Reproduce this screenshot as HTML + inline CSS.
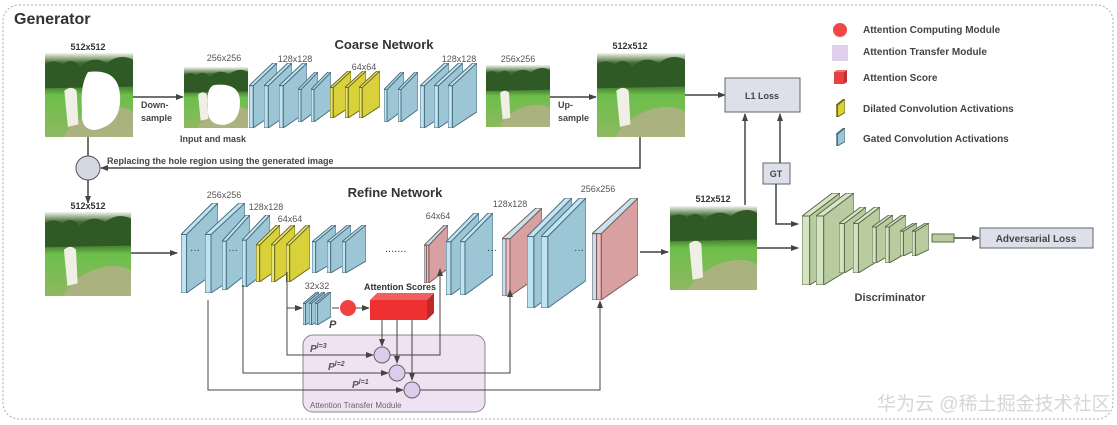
<!DOCTYPE html>
<html><head><meta charset="utf-8"><style>
html,body{margin:0;padding:0;background:#fff;}
svg{display:block;font-family:"Liberation Sans","Noto Sans CJK SC",sans-serif;}
.b{font-weight:bold;}
</style></head><body>
<svg width="1117" height="425" viewBox="0 0 1117 425" xmlns="http://www.w3.org/2000/svg">
<defs>
<marker id="ar" markerWidth="8" markerHeight="8" refX="7" refY="4" orient="auto" markerUnits="userSpaceOnUse"><path d="M0,1 L8,4 L0,7 z" fill="#444"/></marker>
<symbol id="sb" viewBox="0 0 100 100" preserveAspectRatio="none"><g stroke="#4a6f80" stroke-width="1" vector-effect="non-scaling-stroke">
<polygon points="15,35 100,0 100,75 15,100" fill="#9cc6d6" vector-effect="non-scaling-stroke"/>
<polygon points="0,35 85,0 100,0 15,35" fill="#c4e4f0" vector-effect="non-scaling-stroke"/>
<rect x="0" y="35" width="15" height="65" fill="#bfe3f0" vector-effect="non-scaling-stroke"/></g></symbol>
<symbol id="sy" viewBox="0 0 100 100" preserveAspectRatio="none"><g stroke="#6a6a20" stroke-width="1">
<polygon points="15,35 100,0 100,75 15,100" fill="#d9d13a" vector-effect="non-scaling-stroke"/>
<polygon points="0,35 85,0 100,0 15,35" fill="#eeea80" vector-effect="non-scaling-stroke"/>
<rect x="0" y="35" width="15" height="65" fill="#e8e46a" vector-effect="non-scaling-stroke"/></g></symbol>
<symbol id="sp" viewBox="0 0 100 100" preserveAspectRatio="none"><g stroke="#7a5a5a" stroke-width="1">
<polygon points="20,35 100,0 100,75 20,100" fill="#d8a0a0" vector-effect="non-scaling-stroke"/>
<polygon points="0,35 85,0 100,0 20,35" fill="#c4e4f0" vector-effect="non-scaling-stroke"/>
<rect x="0" y="35" width="10" height="65" fill="#bfe3f0" vector-effect="non-scaling-stroke"/>
<rect x="10" y="35" width="10" height="65" fill="#f0c0c0" vector-effect="non-scaling-stroke"/></g></symbol>
<symbol id="sg" viewBox="0 0 100 100" preserveAspectRatio="none"><g stroke="#5a6a4a" stroke-width="1">
<polygon points="20,25 100,0 100,80 20,100" fill="#b8cca0" vector-effect="non-scaling-stroke"/>
<polygon points="0,25 80,0 100,0 20,25" fill="#d8e6c6" vector-effect="non-scaling-stroke"/>
<rect x="0" y="25" width="20" height="75" fill="#d4e4c0" vector-effect="non-scaling-stroke"/></g></symbol>
<linearGradient id="gr" x1="0" y1="0" x2="0" y2="1"><stop offset="0" stop-color="#f4f6f0"/><stop offset="0.12" stop-color="#3f6a30"/><stop offset="0.42" stop-color="#4e8a36"/><stop offset="0.5" stop-color="#6cbf4a"/><stop offset="1" stop-color="#8eb860"/></linearGradient>
<symbol id="ph" viewBox="0 0 100 100" preserveAspectRatio="none">
<rect width="100" height="100" fill="url(#gr)"/>
<path d="M0,14 Q10,6 20,14 Q30,4 40,16 Q55,2 70,12 Q85,0 100,8 L100,40 L0,42z" fill="#2f5a25"/>
<path d="M20,100 Q40,70 70,65 Q90,62 100,70 L100,100z" fill="#b4b088" opacity="0.8"/>
<path d="M22,45 Q30,38 36,45 L38,85 L26,88z" fill="#efefe6"/>
</symbol>
</defs>
<rect x="3" y="5" width="1110" height="414" rx="16" fill="none" stroke="#aaa" stroke-dasharray="2,2"/>
<text x="14" y="24" font-size="16" class="b" fill="#333">Generator</text>

<!-- coarse -->
<text x="384" y="49" font-size="13" class="b" text-anchor="middle" fill="#333">Coarse Network</text>
<text x="88" y="50" font-size="9" class="b" text-anchor="middle" fill="#333">512x512</text>
<use href="#ph" x="45" y="53" width="88" height="84"/>
<path d="M88,72 Q118,68 120,95 Q122,125 95,130 Q80,130 82,110 Q80,85 88,72z" fill="#fff"/>
<line x1="133" y1="97" x2="183" y2="97" stroke="#444" stroke-width="1.5" marker-end="url(#ar)"/>
<text x="141" y="108" font-size="9" class="b" fill="#444">Down-</text>
<text x="141" y="121" font-size="9" class="b" fill="#444">sample</text>
<text x="224" y="61" font-size="9" text-anchor="middle" fill="#555">256x256</text>
<use href="#ph" x="184" y="67" width="64" height="61"/>
<path d="M214,85 Q240,82 240,102 Q240,124 222,125 Q206,124 208,106 Q206,88 214,85z" fill="#fff"/>
<text x="180" y="142" font-size="9" class="b" fill="#444">Input and mask</text>
<use href="#sb" x="249" y="63" width="28" height="65"/>
<use href="#sb" x="264" y="63" width="28" height="65"/>
<use href="#sb" x="279" y="63" width="28" height="65"/>
<use href="#sb" x="298" y="72" width="20" height="50"/>
<use href="#sb" x="311" y="72" width="20" height="50"/>
<use href="#sy" x="330" y="71" width="21" height="47"/>
<use href="#sy" x="345" y="71" width="21" height="47"/>
<use href="#sy" x="359" y="71" width="21" height="47"/>
<use href="#sb" x="384" y="72" width="20" height="50"/>
<use href="#sb" x="398" y="72" width="20" height="50"/>
<use href="#sb" x="420" y="63" width="29" height="65"/>
<use href="#sb" x="434" y="63" width="29" height="65"/>
<use href="#sb" x="448" y="63" width="29" height="65"/>
<text x="295" y="62" font-size="9" text-anchor="middle" fill="#555">128x128</text>
<text x="364" y="70" font-size="9" text-anchor="middle" fill="#555">64x64</text>
<text x="459" y="62" font-size="9" text-anchor="middle" fill="#555">128x128</text>
<text x="518" y="62" font-size="9" text-anchor="middle" fill="#555">256x256</text>
<use href="#ph" x="486" y="65" width="64" height="62"/>
<line x1="550" y1="97" x2="596" y2="97" stroke="#444" stroke-width="1.5" marker-end="url(#ar)"/>
<text x="558" y="108" font-size="9" class="b" fill="#444">Up-</text>
<text x="558" y="121" font-size="9" class="b" fill="#444">sample</text>
<text x="630" y="49" font-size="9" class="b" text-anchor="middle" fill="#333">512x512</text>
<use href="#ph" x="597" y="53" width="88" height="84"/>
<line x1="685" y1="95" x2="725" y2="95" stroke="#444" stroke-width="1.5" marker-end="url(#ar)"/>
<path d="M640,137 L640,168 L101,168" fill="none" stroke="#444" stroke-width="1.5" marker-end="url(#ar)"/>
<line x1="88" y1="137" x2="88" y2="156" stroke="#444" stroke-width="1.5"/>
<circle cx="88" cy="168" r="12" fill="#d4d8e2" stroke="#555"/>
<line x1="88" y1="180" x2="88" y2="203" stroke="#444" stroke-width="1.5" marker-end="url(#ar)"/>
<text x="107" y="164" font-size="9" class="b" fill="#444">Replacing the hole region using the generated image</text>

<!-- L1 / GT -->
<rect x="725" y="78" width="75" height="34" fill="#dde0ea" stroke="#666"/>
<text x="762" y="99" font-size="9" class="b" text-anchor="middle" fill="#444">L1 Loss</text>
<rect x="763" y="163" width="27" height="21" fill="#dde0ea" stroke="#666"/>
<text x="776" y="177" font-size="9" class="b" text-anchor="middle" fill="#444">GT</text>
<line x1="780" y1="163" x2="780" y2="114" stroke="#444" stroke-width="1.5" marker-end="url(#ar)"/>
<line x1="745" y1="205" x2="745" y2="114" stroke="#444" stroke-width="1.5" marker-end="url(#ar)"/>
<path d="M776,184 L776,224 L798,224" fill="none" stroke="#444" stroke-width="1.5" marker-end="url(#ar)"/>

<!-- legend -->
<circle cx="840" cy="30" r="7" fill="#f04848"/>
<rect x="832" y="45" width="16" height="16" fill="#e0d0ec"/>
<rect x="834" y="72" width="10" height="12" fill="#e84040"/><polygon points="834,72 837,70 847,70 844,72" fill="#f07070"/><polygon points="844,72 847,70 847,82 844,84" fill="#c03030"/>
<use href="#sy" x="836" y="99" width="9" height="18"/>
<use href="#sb" x="836" y="128" width="9" height="18"/>
<g font-size="10" class="b" fill="#444">
<text x="863" y="33">Attention Computing Module</text>
<text x="863" y="55">Attention Transfer Module</text>
<text x="863" y="81">Attention Score</text>
<text x="863" y="112">Dilated Convolution Activations</text>
<text x="863" y="142">Gated Convolution Activations</text>
</g>

<!-- refine -->
<text x="395" y="197" font-size="13" class="b" text-anchor="middle" fill="#333">Refine Network</text>
<text x="88" y="209" font-size="9" class="b" text-anchor="middle" fill="#333">512x512</text>
<use href="#ph" x="45" y="212" width="86" height="84"/>
<line x1="131" y1="253" x2="177" y2="253" stroke="#444" stroke-width="1.5" marker-end="url(#ar)"/>
<text x="224" y="198" font-size="9" text-anchor="middle" fill="#555">256x256</text>
<text x="266" y="210" font-size="9" text-anchor="middle" fill="#555">128x128</text>
<text x="290" y="222" font-size="9" text-anchor="middle" fill="#555">64x64</text>
<use href="#sb" x="181" y="203" width="37" height="90"/>
<use href="#sb" x="205" y="203" width="40" height="90"/>
<use href="#sb" x="222" y="215" width="28" height="75"/>
<use href="#sb" x="242" y="215" width="28" height="72"/>
<use href="#sy" x="256" y="225" width="24" height="57"/>
<use href="#sy" x="271" y="225" width="24" height="57"/>
<use href="#sy" x="286" y="225" width="24" height="57"/>
<use href="#sb" x="312" y="225" width="24" height="48"/>
<use href="#sb" x="327" y="225" width="24" height="48"/>
<use href="#sb" x="342" y="225" width="24" height="48"/>
<text x="385" y="252" font-size="11" fill="#444">.......</text>
<text x="438" y="219" font-size="9" text-anchor="middle" fill="#555">64x64</text>
<use href="#sp" x="424" y="225" width="24" height="58"/>
<use href="#sb" x="446" y="213" width="33" height="82"/>
<use href="#sb" x="460" y="213" width="33" height="82"/>
<text x="510" y="207" font-size="9" text-anchor="middle" fill="#555">128x128</text>
<use href="#sp" x="502" y="208" width="40" height="88"/>
<use href="#sb" x="527" y="198" width="45" height="110"/>
<use href="#sb" x="541" y="198" width="45" height="110"/>
<text x="598" y="192" font-size="9" text-anchor="middle" fill="#555">256x256</text>
<use href="#sp" x="592" y="198" width="46" height="102"/>
<g font-size="10" fill="#333"><text x="190" y="253">···</text><text x="228" y="253">···</text><text x="487" y="253">···</text><text x="574" y="253">···</text></g>
<line x1="640" y1="252" x2="668" y2="252" stroke="#444" stroke-width="1.5" marker-end="url(#ar)"/>
<text x="713" y="202" font-size="9" class="b" text-anchor="middle" fill="#333">512x512</text>
<use href="#ph" x="670" y="206" width="87" height="84"/>
<line x1="757" y1="248" x2="798" y2="248" stroke="#444" stroke-width="1.5" marker-end="url(#ar)"/>

<!-- attention -->
<rect x="303" y="335" width="182" height="77" rx="10" fill="#efe2f2" stroke="#888"/>
<text x="310" y="408" font-size="8" fill="#666">Attention Transfer Module</text>
<text x="317" y="289" font-size="9" text-anchor="middle" fill="#555">32x32</text>
<use href="#sb" x="303" y="292" width="16" height="33"/>
<use href="#sb" x="309" y="292" width="16" height="33"/>
<use href="#sb" x="315" y="292" width="16" height="33"/>
<text x="329" y="328" font-size="11" class="b" font-style="italic" fill="#444">P</text>
<line x1="332" y1="308" x2="339" y2="308" stroke="#444"/>
<circle cx="348" cy="308" r="8" fill="#f04040"/>
<line x1="356" y1="308" x2="369" y2="308" stroke="#444" marker-end="url(#ar)"/>
<polygon points="370,300 377,293 434,293 427,300" fill="#f06060"/>
<polygon points="427,300 434,293 434,313 427,320" fill="#c02828"/>
<rect x="370" y="300" width="57" height="20" fill="#ee3030"/>
<text x="400" y="290" font-size="9" class="b" text-anchor="middle" fill="#333">Attention Scores</text>
<g stroke="#444" fill="none" stroke-width="1">
<path d="M287,272 L287,308 L302,308" marker-end="url(#ar)"/>
<path d="M287,308 L287,355 L373,355" marker-end="url(#ar)"/>
<path d="M243,285 L243,373 L388,373" marker-end="url(#ar)"/>
<path d="M208,300 L208,390 L403,390" marker-end="url(#ar)"/>
<path d="M382,320 L382,346" marker-end="url(#ar)"/>
<path d="M397,320 L397,363" marker-end="url(#ar)"/>
<path d="M412,320 L412,380" marker-end="url(#ar)"/>
<path d="M390,355 L440,355 L440,269" marker-end="url(#ar)"/>
<path d="M405,373 L510,373 L510,290" marker-end="url(#ar)"/>
<path d="M420,390 L600,390 L600,301" marker-end="url(#ar)"/>
</g>
<circle cx="382" cy="355" r="8" fill="#dccbec" stroke="#666"/>
<circle cx="397" cy="373" r="8" fill="#dccbec" stroke="#666"/>
<circle cx="412" cy="390" r="8" fill="#dccbec" stroke="#666"/>
<g font-size="10" class="b" font-style="italic" fill="#555">
<text x="310" y="352">P<tspan font-size="7" dy="-4">l=3</tspan></text>
<text x="328" y="370">P<tspan font-size="7" dy="-4">l=2</tspan></text>
<text x="352" y="388">P<tspan font-size="7" dy="-4">l=1</tspan></text>
</g>

<!-- discriminator -->
<use href="#sg" x="802" y="193" width="38" height="92"/>
<use href="#sg" x="816" y="193" width="38" height="92"/>
<use href="#sg" x="839" y="207" width="27" height="66"/>
<use href="#sg" x="853" y="207" width="27" height="66"/>
<use href="#sg" x="872" y="215" width="21" height="48"/>
<use href="#sg" x="885" y="215" width="21" height="48"/>
<use href="#sg" x="900" y="223" width="17" height="33"/>
<use href="#sg" x="912" y="223" width="17" height="33"/>
<rect x="932" y="234" width="22" height="8" fill="#b8cca0" stroke="#5a6a4a"/>
<line x1="954" y1="238" x2="979" y2="238" stroke="#444" stroke-width="1.5" marker-end="url(#ar)"/>
<rect x="980" y="228" width="113" height="20" fill="#dde0ea" stroke="#666"/>
<text x="1036" y="242" font-size="10" class="b" text-anchor="middle" fill="#444">Adversarial Loss</text>
<text x="890" y="301" font-size="11" class="b" text-anchor="middle" fill="#444">Discriminator</text>

<text x="877" y="410" font-size="19" fill="#ccc" opacity="0.8">华为云 @稀土掘金技术社区</text>
</svg>
</body></html>
